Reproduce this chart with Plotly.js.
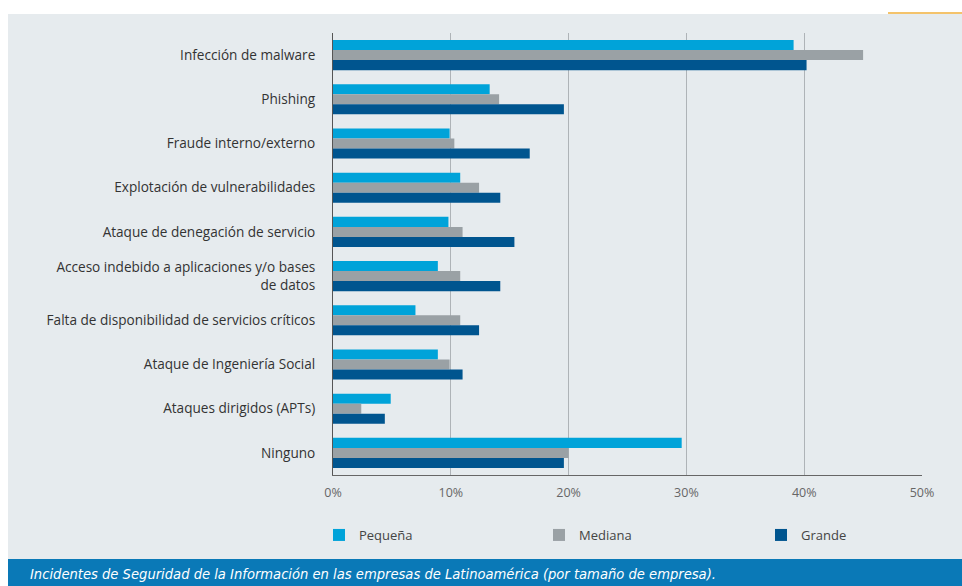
<!DOCTYPE html>
<html>
<head>
<meta charset="utf-8">
<script src="https://cdn.plot.ly/plotly-3.0.1.min.js"></script>
<style>
  html, body { margin: 0; padding: 0; background: #ffffff; }
  #chart { width: 962px; height: 586px; }
</style>
</head>
<body>
<div id="chart"></div>
<script>
const categories = [
  "Infección de malware",
  "Phishing",
  "Fraude interno/externo",
  "Explotación de vulnerabilidades",
  "Ataque de denegación de servicio",
  "Acceso indebido a aplicaciones y/o bases<br>de datos",
  "Falta de disponibilidad de servicios críticos",
  "Ataque de Ingeniería Social",
  "Ataques dirigidos (APTs)",
  "Ninguno"
];
const seriesNames = ["Pequeña", "Mediana", "Grande"];
const pequena = [39.1, 13.3, 9.9, 10.8, 9.8, 8.9, 7.0, 8.9, 4.9, 29.6];
const mediana = [45.0, 14.1, 10.3, 12.4, 11.0, 10.8, 10.8, 9.9, 2.4, 20.0];
const grande  = [40.2, 19.6, 16.7, 14.2, 15.4, 14.2, 12.4, 11.0, 4.4, 19.6];
const xTickVals = [0, 10, 20, 30, 40, 50];
const caption = "Incidentes de Seguridad de la Información en las empresas de Latinoamérica (por tamaño de empresa).";

const W = 962, H = 586;
const M = {l: 333, r: 40, t: 33, b: 111};
const pw = W - M.l - M.r, ph = H - M.t - M.b;
const px = x => (x - M.l) / pw;
const py = y => 1 - (y - M.t) / ph;

const colors = ["#00a3d9", "#9aa1a5", "#00558f"];
const legendIds = ["legend", "legend2", "legend3"];
const legendX = [333, 553, 775];

const data = [pequena, mediana, grande].map((vals, i) => ({
  type: "bar",
  orientation: "h",
  name: seriesNames[i],
  x: vals,
  y: categories,
  marker: {color: colors[i]},
  legend: legendIds[i],
  hoverinfo: "x+y"
}));

const legendBase = (xpx) => ({
  orientation: "h",
  x: px(xpx - 14), xanchor: "left",
  y: py(535), yanchor: "middle",
  itemwidth: 30,
  bgcolor: "rgba(0,0,0,0)",
  borderwidth: 0,
  font: {family: "'Open Sans', sans-serif", size: 13, color: "#444444"},
  itemclick: false, itemdoubleclick: false
});

const layout = {
  width: W, height: H,
  margin: M,
  paper_bgcolor: "#ffffff",
  plot_bgcolor: "rgba(0,0,0,0)",
  barmode: "group",
  bargap: 0.32,
  bargroupgap: 0,
  font: {family: "'Open Sans', sans-serif", color: "#333333", size: 13},
  xaxis: {
    range: [0, 50],
    tickvals: xTickVals,
    ticktext: xTickVals.map(v => v + "%"),
    showgrid: true,
    gridcolor: "#aeb3b7",
    gridwidth: 1,
    zeroline: false,
    showline: true,
    linecolor: "#666666",
    linewidth: 1,
    ticks: "",
    ticklabelstandoff: 6,
    tickfont: {size: 12.5, color: "#666666"},
    fixedrange: true
  },
  yaxis: {
    autorange: "reversed",
    showline: true,
    linecolor: "#555555",
    linewidth: 1,
    showgrid: false,
    ticks: "",
    ticklabelstandoff: 14,
    tickfont: {size: 13.6, color: "#333333"},
    fixedrange: true
  },
  showlegend: true,
  legend: legendBase(legendX[0]),
  legend2: legendBase(legendX[1]),
  legend3: legendBase(legendX[2]),
  shapes: [
    {type: "rect", xref: "paper", yref: "paper", layer: "below",
     x0: px(8), x1: px(962), y0: py(14), y1: py(559),
     fillcolor: "#e6ebee", line: {width: 0}},
    {type: "rect", xref: "paper", yref: "paper", layer: "below",
     x0: px(8), x1: px(962), y0: py(559), y1: py(586),
     fillcolor: "#0a79b7", line: {width: 0}},
    {type: "line", xref: "paper", yref: "paper",
     x0: px(888), x1: px(962), y0: py(13), y1: py(13),
     line: {color: "#f4c36b", width: 2}}
  ],
  annotations: [
    {xref: "paper", yref: "paper", x: px(28), y: py(573),
     xanchor: "left", yanchor: "middle", showarrow: false,
     text: "<i>" + caption + "</i>",
     font: {family: "'Liberation Sans Narrow', 'DejaVu Sans Condensed', sans-serif", size: 14.6, color: "#ffffff"}}
  ]
};

Plotly.newPlot("chart", data, layout, {displayModeBar: false});
</script>
</body>
</html>
